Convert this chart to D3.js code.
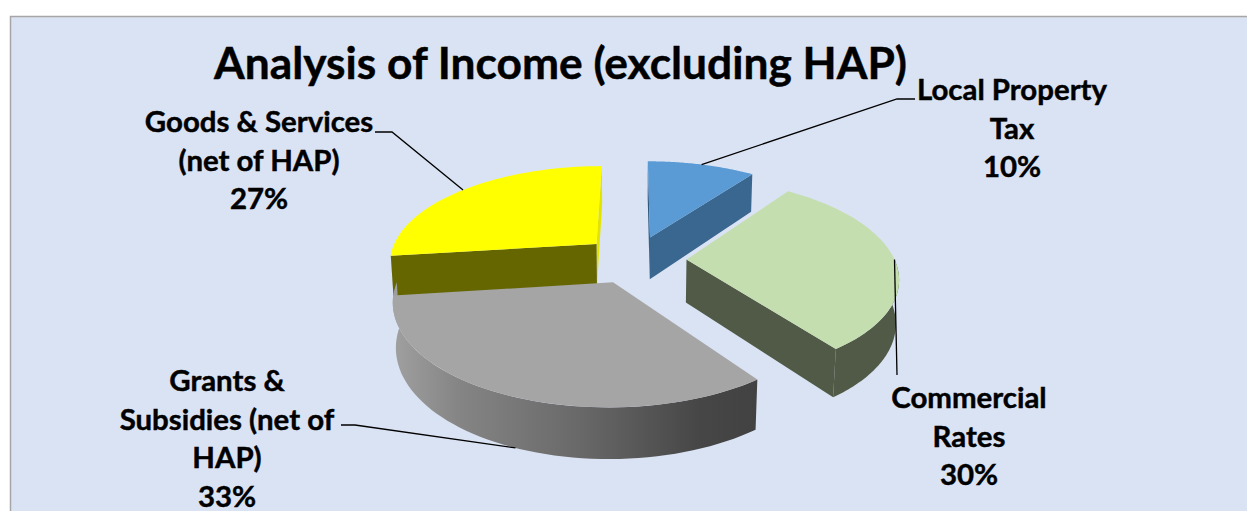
<!DOCTYPE html>
<html>
<head>
<meta charset="utf-8">
<script src="https://cdn.jsdelivr.net/npm/d3@7/dist/d3.min.js"></script>
<style>
html,body{margin:0;padding:0;background:#fff;}
svg{display:block;}
text{font-family:Lato,"Open Sans",sans-serif;font-weight:700;fill:#000;stroke:#000;stroke-width:0.45px;}
</style>
</head>
<body>
<svg id="chart" width="1247" height="511"></svg>
<script>
// Income shares, clockwise from twelve o'clock
const categories = ["Local Property Tax", "Commercial Rates", "Grants & Subsidies (net of HAP)", "Goods & Services (net of HAP)"];
const shares = [10, 30, 33, 27];
const labelLines = [["Local Property", "Tax"], ["Commercial", "Rates"], ["Grants &", "Subsidies (net of", "HAP)"], ["Goods & Services", "(net of HAP)"]];
const titleText = "Analysis of Income (excluding HAP)";

const topColors = ["#5b9bd5", "#c5deb0", "#a5a5a5", "#ffff00"];
const sideColors = ["#3a678f", "#505a47", "#555555", "#666600"];

const svg = d3.select("#chart");

// Perspective model of the tilted pie
const cx = 634.5, cy = 259.5, radius = 208, explode = 52, tilt = 0.46, persp = 0.0008, thickness = 43, shrink = 0.012;

function project(X, Y, z) {
  const s = 1 / (1 + persp * Y + shrink * z);
  return [cx + X * s, cy + (-tilt * Y + thickness * z * (1 + shrink)) * s];
}

const pie = d3.pie().sort(null).value(d => d).startAngle(0).endAngle(2 * Math.PI);
const slices = pie(shares).map((a, i) => {
  const mid = (a.startAngle + a.endAngle) / 2;
  return { i, a0: a.startAngle, a1: a.endAngle, mid,
           ox: explode * Math.sin(mid), oy: explode * Math.cos(mid) };
});

// Point of a slice at polar position (r, angle) and depth z (0 top face, 1 bottom face)
function pt(sl, r, ang, z) {
  return project(sl.ox + r * Math.sin(ang), sl.oy + r * Math.cos(ang), z);
}
function arcPts(sl, a0, a1, z) {
  const n = 60;
  return d3.range(n + 1).map(k => pt(sl, radius, a0 + (a1 - a0) * k / n, z));
}
const line = d3.line();
const closed = pts => line(pts) + "Z";

const defs = svg.append("defs");
const grad = defs.append("linearGradient").attr("id", "rimGrey")
  .attr("gradientUnits", "userSpaceOnUse").attr("x1", 393).attr("x2", 755).attr("y1", 0).attr("y2", 0);
[[0, "#a0a0a0"], [0.18, "#858585"], [0.5, "#6a6a6a"], [0.85, "#464646"], [1, "#424242"]]
  .forEach(([o, c]) => grad.append("stop").attr("offset", o).attr("stop-color", c));

// Chart panel, running off the right and bottom of the page
svg.append("rect").attr("x", 10.5).attr("y", 16.5).attr("width", 1250).attr("height", 520)
  .attr("fill", "#dae3f3").attr("stroke", "#a6a6a6").attr("stroke-width", 1.5);

svg.append("text").attr("x", 560.5).attr("y", 78.5).attr("text-anchor", "middle")
  .attr("font-size", 44.3).text(titleText);

// Faces of each slice, back to front
function radialFace(sl, ang) {
  return closed([pt(sl, 0, 0, 0), pt(sl, radius, ang, 0), pt(sl, radius, ang, 1), pt(sl, 0, 0, 1)]);
}
function rimFace(sl, a0, a1) {
  return closed(arcPts(sl, a0, a1, 0).concat(arcPts(sl, a0, a1, 1).reverse()));
}
function topFace(sl) {
  return closed([pt(sl, 0, 0, 0)].concat(arcPts(sl, sl.a0, sl.a1, 0)));
}

const [blue, green, grey, yellow] = slices;
const g = svg.append("g");

g.append("path").attr("d", radialFace(blue, blue.a0)).attr("fill", "#2f5a80");
g.append("path").attr("d", radialFace(blue, blue.a1)).attr("fill", sideColors[0]);
g.append("path").attr("d", topFace(blue)).attr("fill", topColors[0]);

g.append("path").attr("d", radialFace(yellow, yellow.a1)).attr("fill", "#e3e300");
g.append("path").attr("d", radialFace(yellow, yellow.a0)).attr("fill", sideColors[3]);
g.append("path").attr("d", topFace(yellow)).attr("fill", topColors[3]);

g.append("path").attr("d", radialFace(green, green.a1)).attr("fill", sideColors[1]);
g.append("path").attr("d", rimFace(green, Math.PI * 0.5, green.a1)).attr("fill", sideColors[1]);
g.append("path").attr("d", topFace(green)).attr("fill", topColors[1]);

g.append("path").attr("d", rimFace(grey, grey.a0, Math.PI * 1.5)).attr("fill", "url(#rimGrey)");
g.append("path").attr("d", topFace(grey)).attr("fill", topColors[2]);

// Data labels with leader lines anchored near each slice's middle angle
const labelPos = [[1012, 100], [969, 408], [227, 391], [259, 132]];
const elbows = [[[897, 99], [915, 99]], [[897, 375]], [[355, 425], [341, 425]], [[392, 132], [375, 132]]];
const anchorDepth = [0, 0, 1, 0];
const anchorShift = [0, 0, -0.03, 0];
const lineGap = 38.7;

slices.forEach((sl, i) => {
  const start = pt(sl, radius, sl.mid + anchorShift[i], anchorDepth[i]);
  svg.append("path").attr("d", line([start, ...elbows[i]]))
    .attr("fill", "none").attr("stroke", "#000").attr("stroke-width", 1.3);
  const t = svg.append("text").attr("font-size", 29.4).attr("text-anchor", "middle");
  const rows = [...labelLines[i], shares[i] + "%"];
  rows.forEach((r, k) => t.append("tspan").attr("x", labelPos[i][0]).attr("y", labelPos[i][1] + k * lineGap).text(r));
});
</script>
</body>
</html>
